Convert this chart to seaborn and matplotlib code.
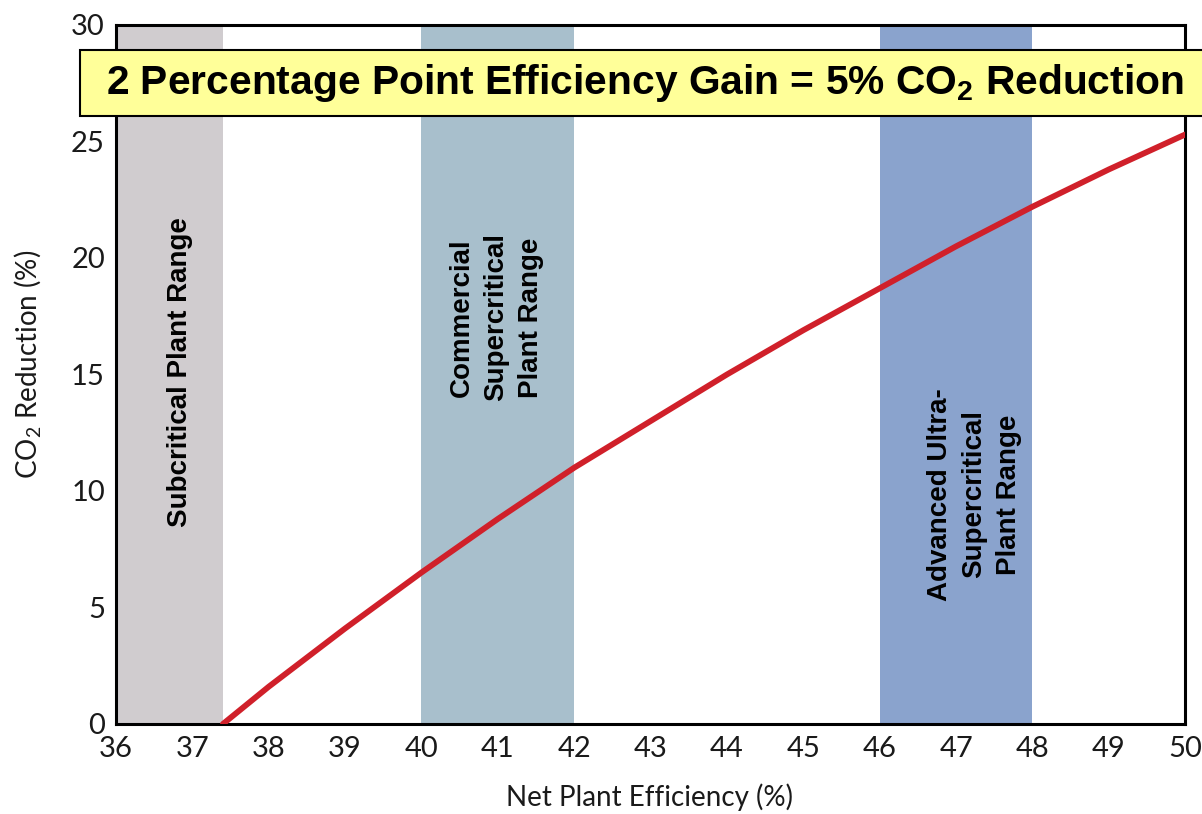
import matplotlib
matplotlib.use("Agg")
import matplotlib.pyplot as plt
from matplotlib.patches import Rectangle
import seaborn as sns
import pandas as pd

# Net plant efficiency (%) vs CO2 reduction (%)
efficiency = [37.4, 38, 39, 40, 41, 42, 43, 44, 45, 46, 47, 48, 49, 50]
co2_reduction = [0.0, 1.6, 4.1, 6.5, 8.8, 11.0, 13.0, 15.0, 16.9, 18.7, 20.5, 22.2, 23.8, 25.3]

# Technology ranges (start, end) and labels
range_starts = [36, 40, 46]
range_ends = [37.4, 42, 48]
range_colors = ["#d0cccf", "#a8bfcc", "#8aa3cd"]
range_labels = ["Subcritical Plant Range",
                "Commercial\nSupercritical\nPlant Range",
                "Advanced Ultra-\nSupercritical\nPlant Range"]
label_x = [36.84, 40.98, 47.24]
label_y = [15.1, 17.45, 9.85]

x_ticks = list(range(36, 51))
y_ticks = [0, 5, 10, 15, 20, 25, 30]

sns.set_style("white")
plt.rcParams["font.family"] = ["Lato", "DejaVu Sans"]
plt.rcParams["mathtext.default"] = "regular"
plt.rcParams["text.color"] = "black"

fig = plt.figure(figsize=(12.02, 8.14), dpi=100)
ax = fig.add_axes([0.0965, 0.1106, 0.8895, 0.8587])

for s, e, c in zip(range_starts, range_ends, range_colors):
    ax.axvspan(s, e, color=c, lw=0, zorder=0)

for lx, ly, lab in zip(label_x, label_y, range_labels):
    ax.text(lx, ly, lab, rotation=90, ha="center", va="center",
            fontsize=20, fontweight="bold", family=["Liberation Sans"],
            color="black", linespacing=1.42, zorder=2)

df = pd.DataFrame({"eff": efficiency, "red": co2_reduction})
sns.lineplot(data=df, x="eff", y="red", ax=ax, color="#d0202a", lw=4.2,
             zorder=3)

ax.set_xlim(36, 50)
ax.set_ylim(0, 30)
ax.set_xticks(x_ticks)
ax.set_yticks(y_ticks)
ax.tick_params(axis="both", direction="in", length=13, width=1.5,
               labelsize=21, colors="#1a1a1a", pad=8)
ax.tick_params(axis="x", pad=9)
for sp in ax.spines.values():
    sp.set_color("black")
    sp.set_linewidth(2.2)

ax.set_xlabel("Net Plant Efficiency (%)", fontsize=20, color="#1a1a1a",
              va="center")
ax.xaxis.set_label_coords(0.4986, -0.1044)
ax.set_ylabel("CO$_2$ Reduction (%)", fontsize=20, color="#1a1a1a",
              va="center")
ax.yaxis.set_label_coords(-0.0823, 0.515)

# Headline banner across the top of the plot
fig.add_artist(Rectangle((80 / 1202, 1 - 116 / 814), 1.0, 66 / 814,
                         transform=fig.transFigure, facecolor="#ffff99",
                         edgecolor="black", linewidth=1.5, zorder=9))
fig.text(0.5366, 0.898, "2 Percentage Point Efficiency Gain = 5% CO$_2$ Reduction",
         ha="center", va="center", fontsize=29.3, fontweight="bold",
         family=["Liberation Sans"], color="black", zorder=10)

fig.savefig("out.png", dpi=100)
